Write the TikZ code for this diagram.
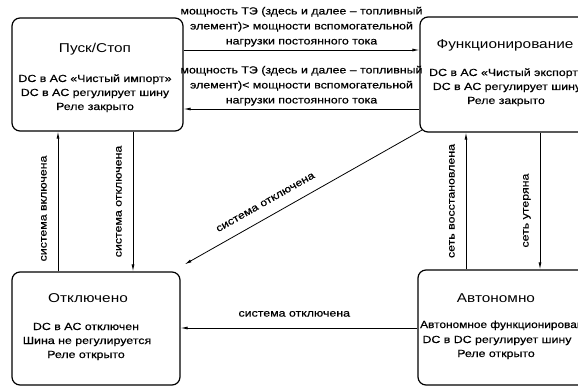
\documentclass[tikz,border=0pt]{standalone}
\usepackage{fontspec}
\setmainfont{Liberation Sans}[FakeStretch=1.2,FakeBold=0.5]
\newfontfamily\ttlfont{Liberation Sans}[FakeStretch=1.2]
\usetikzlibrary{arrows.meta,calc}
\begin{document}
\begin{tikzpicture}[x=1pt,y=-1pt,
  box/.style={draw, line width=1.2pt, rounded corners=8pt, inner sep=0pt},
  ttl/.style={font=\ttlfont\fontsize{12.8}{15}\selectfont, anchor=base, inner sep=0pt},
  bdy/.style={font=\fontsize{10.3}{14}\selectfont, anchor=base, inner sep=0pt},
  arr/.style={line width=0.8pt, -{Latex[length=7pt,width=3pt]}},
  lbl/.style={font=\fontsize{10.3}{14}\selectfont, inner xsep=0pt, inner ysep=11pt, text height=6pt, text depth=0pt, anchor=south},
  toplbl/.style={font=\fontsize{10.3}{15}\selectfont, align=center, inner xsep=0pt, inner ysep=3pt, anchor=south}
]
\useasboundingbox (0,0) rectangle (578,387);
% boxes
\node[box, minimum width=171pt, minimum height=113pt] (pusk) at (97.5,74.5) {};
\node[box, minimum width=170pt, minimum height=115pt] (fun) at (505,74.5) {};
\node[box, minimum width=168pt, minimum height=113pt] (otk) at (96,328.5) {};
\node[box, minimum width=172pt, minimum height=115pt] (avt) at (504,327.5) {};
% texts
\node[ttl] (puskT) at (95,53) {Пуск/Стоп};
\node[bdy] (puskA) at (95,82) {DC в AC «Чистый импорт»};
\node[bdy] (puskB) at (95,96) {DC в AC регулирует шину};
\node[bdy] (puskC) at (95,110) {Реле закрыто};
\node[ttl] (funT) at (505,49) {Функционирование};
\node[bdy] (funA) at (507,76) {DC в AC «Чистый экспорт»};
\node[bdy] (funB) at (507,90) {DC в AC регулирует шину};
\node[bdy] (funC) at (506,104) {Реле закрыто};
\node[ttl] (otkT) at (88,302) {Отключено};
\node[bdy] (otkA) at (86,330) {DC в AC отключен};
\node[bdy] (otkB) at (87,344) {Шина не регулируется};
\node[bdy] (otkC) at (86,358) {Реле открыто};
\node[ttl] (avtT) at (496,302) {Автономно};
\node[bdy, anchor=base west, xscale=0.96] (avtA) at (420,328) {Автономное функционирование};
\node[bdy] (avtB) at (497,343) {DC в DC регулирует шину};
\node[bdy] (avtC) at (496,357) {Реле открыто};
% helper coordinates
\coordinate (y1) at (0,50);
\coordinate (y2) at (0,109);
\coordinate (y5) at (0,328);
\coordinate (xa) at (58,0);
\coordinate (xb) at (133,0);
\coordinate (xc) at (466,0);
\coordinate (xd) at (540,0);
% connectors
\draw[arr] (pusk.east |- y1) -- node[toplbl, midway] (l1) {мощность ТЭ (здесь и далее – топливный\\элемент)> мощности вспомогательной\\нагрузки постоянного тока} (fun.west |- y1);
\draw[arr] (fun.west |- y2) -- node[toplbl, midway] (l2) {мощность ТЭ (здесь и далее – топливный\\элемент)< мощности вспомогательной\\нагрузки постоянного тока} (pusk.east |- y2);
\draw[arr] (otk.north -| xa) -- node[lbl, rotate=90, pos=.45] (l3) {система включена} (pusk.south -| xa);
\draw[arr] (pusk.south -| xb) -- node[lbl, rotate=90, pos=.5] (l4) {система отключена} (otk.north -| xb);
\draw[arr] (avt.north -| xc) -- node[lbl, rotate=90, pos=.5] (l5) {сеть восстановлена} (fun.south -| xc);
\draw[arr] (fun.south -| xd) -- node[lbl, rotate=90, pos=.57] (l6) {сеть утеряна} (avt.north -| xd);
\draw[arr] ($(fun.south west)+(2.5,-2.5)$) -- node[lbl, sloped, pos=.63] (l7) {система отключена} ($(otk.north east)+(4,-7)$);
\draw[arr] (avt.west |- y5) -- node[lbl, pos=.52] (l8) {система отключена} (otk.east |- y5);
\end{tikzpicture}
\end{document}
